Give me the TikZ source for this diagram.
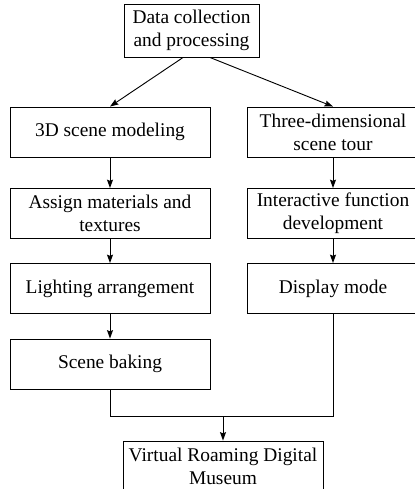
\documentclass[tikz,border=0pt]{standalone}
\usepackage{fontspec}
\setmainfont{Liberation Serif}
\usetikzlibrary{
		calc,
		positioning,
		arrows.meta
	}
\tikzset{
		>={Stealth[length=2.1mm,width=1.5mm,inset=0.3mm]},
		flowbox/.style={draw, line width=0.65pt, align=center, inner sep=0pt,
			minimum height=12.5mm, font=\fontsize{13.8}{16.5}\selectfont},
		leftbox/.style={flowbox, minimum width=50mm},
		rightbox/.style={flowbox, minimum width=43mm},
		link/.style={line width=0.65pt}
	}

\begin{document}
\begin{tikzpicture}
		\useasboundingbox (0mm,0mm) rectangle (103.75mm,122.25mm);
		\clip (0mm,0mm) rectangle (103.75mm,122.25mm);
		% top
		\node[flowbox, minimum width=33.75mm, minimum height=13.25mm] (data) at (47.875mm, 114.625mm) {Data collection\\and processing};
		% left column
		\node[leftbox] (model) at (27.5mm, 89.25mm) {3D scene modeling};
		\node[leftbox] (assign) at (27.5mm, 68.875mm) {Assign materials and\\textures};
		\node[leftbox] (light) at (27.5mm, 50.125mm) {Lighting arrangement};
		\node[leftbox] (bake) at (27.5mm, 31.25mm) {Scene baking};
		% right column
		\node[rightbox] (tour) at (83.25mm, 89.25mm) {Three-dimensional\\scene tour};
		\node[rightbox] (interact) at (83.25mm, 68.875mm) {Interactive function\\development};
		\node[rightbox] (display) at (83.25mm, 50.125mm) {Display mode};
		% bottom
		\node[flowbox, minimum width=50mm] (museum) at (55.75mm, 5.75mm) {Virtual Roaming Digital\\Museum};
		\coordinate (merge) at ($(museum.north)+(0mm,6mm)$);
		% connectors
		\draw[link, ->] ([xshift=-2.1mm]data.south) -- (model.north);
		\draw[link, ->] ([xshift=4.6mm]data.south) -- (tour.north);
		\draw[link, ->] (model) -- (assign);
		\draw[link, ->] (assign) -- (light);
		\draw[link, ->] (light) -- (bake);
		\draw[link, ->] (tour) -- (interact);
		\draw[link, ->] (interact) -- (display);
		\draw[link] (bake.south) |- (merge) -| (display.south);
		\draw[link, ->] (merge) -- (museum.north);
	\end{tikzpicture}
\end{document}
